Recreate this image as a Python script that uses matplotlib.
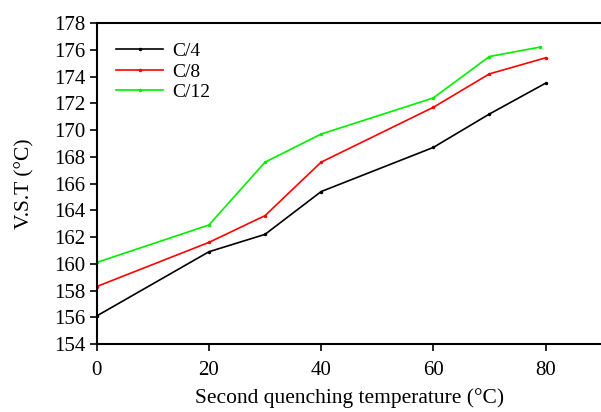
import matplotlib
matplotlib.use("Agg")
from matplotlib import pyplot as plt

# second quenching temperature (°C)
temp = [0, 20, 30, 40, 60, 70, 80]
temp_c12 = [0, 20, 30, 40, 60, 70, 79]

vst_c4 = [156.1, 160.9, 162.2, 165.4, 168.7, 171.2, 173.5]
vst_c8 = [158.3, 161.6, 163.6, 167.6, 171.7, 174.2, 175.4]
vst_c12 = [160.1, 162.9, 167.6, 169.7, 172.4, 175.5, 176.2]

plt.rcParams["font.family"] = ["Liberation Serif", "DejaVu Serif"]

fig = plt.figure(figsize=(6.01, 4.12), dpi=100)
ax = fig.add_axes([0.161, 0.165, 0.84, 0.779])

ax.plot(temp, vst_c4, color="black", marker="o", markersize=1.5, linewidth=1.2, label="C/4")
ax.plot(temp, vst_c8, color="red", marker="o", markersize=1.5, linewidth=1.2, label="C/8")
ax.plot(temp_c12, vst_c12, color="#00ee00", marker="o", markersize=1.5, linewidth=1.2, label="C/12")

ax.set_xlim(0, 90)
ax.set_ylim(154, 178)
ax.set_xticks([0, 20, 40, 60, 80])
ax.set_yticks(range(154, 179, 2))
ax.tick_params(direction="out", labelsize=15, width=1.2, length=5)
ax.tick_params(axis="x", pad=7)
ax.tick_params(axis="y", pad=3)
for side in ["left", "bottom", "top"]:
    ax.spines[side].set_linewidth(1.5)
ax.spines["right"].set_visible(False)

ax.set_xlabel("Second quenching temperature (°C)", fontsize=15.5, labelpad=6)
ax.set_ylabel("V.S.T (°C)", fontsize=15.5, labelpad=14)

ax.legend(loc="upper left", frameon=False, fontsize=14, handlelength=2.4,
          handletextpad=0.5, labelspacing=0.15, borderaxespad=0.6)

fig.savefig("out.png", dpi=100)
